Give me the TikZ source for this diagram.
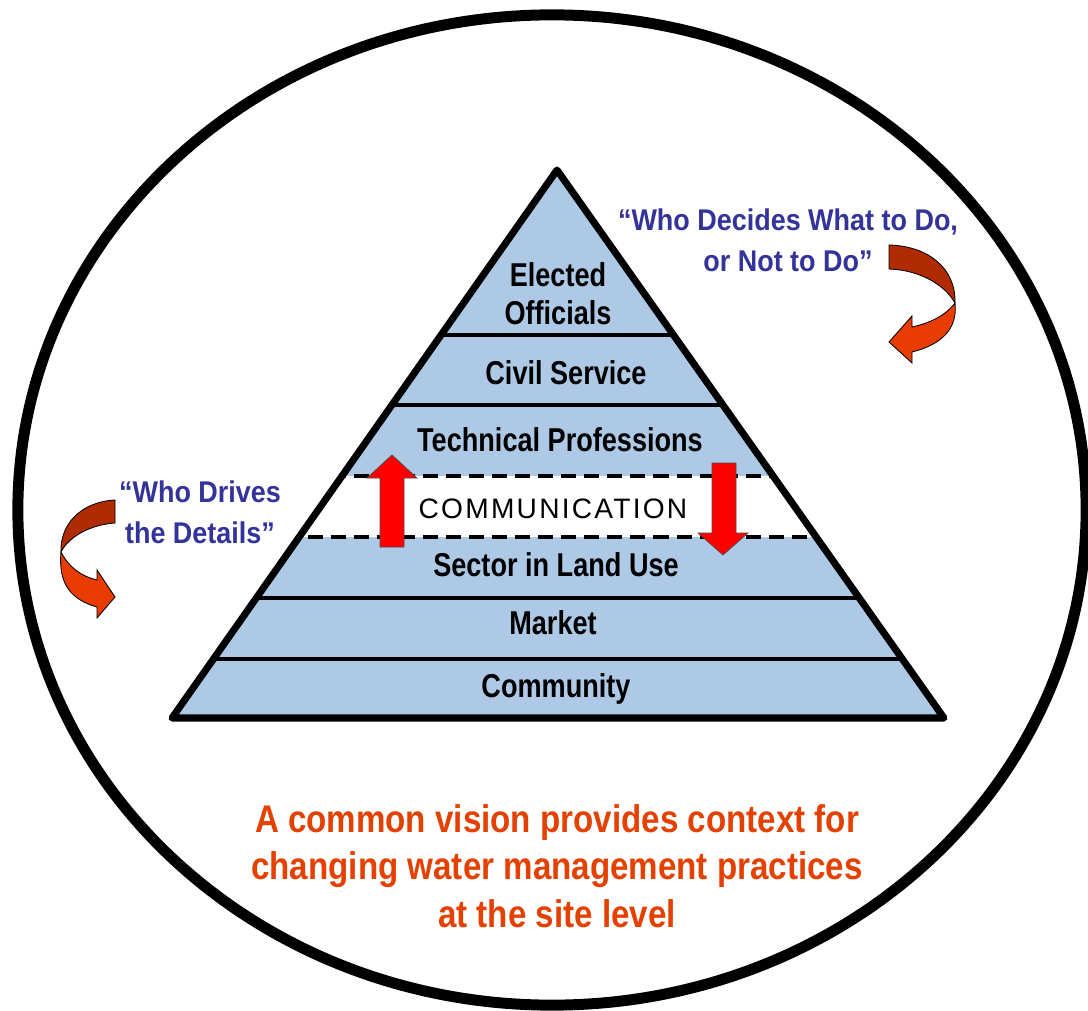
\documentclass[tikz,border=0pt]{standalone}
\usepackage{fontspec}
\setmainfont{Liberation Sans}
\newfontfamily\labelfont[FakeStretch=0.82]{Liberation Sans Bold}
\newfontfamily\quotefont[FakeStretch=0.9]{Liberation Sans Bold}
\newfontfamily\visionfont[FakeStretch=0.86]{Liberation Sans Bold}
\newfontfamily\commfont[LetterSpace=8]{Liberation Sans}
\definecolor{pyramidBlue}{RGB}{173,201,230}
\definecolor{quoteBlue}{RGB}{51,51,153}
\definecolor{visionOrange}{RGB}{228,64,0}
\definecolor{arrowDark}{RGB}{176,44,0}
\definecolor{arrowLight}{RGB}{232,60,0}
\begin{document}
\begin{tikzpicture}[x=0.025cm, y=-0.025cm,
    layerLabel/.style={font=\labelfont\fontsize{23.5}{27}\selectfont, align=center},
    commLabel/.style={font=\commfont\fontsize{20}{24}\selectfont},
    quoteText/.style={font=\quotefont\fontsize{21.3}{29}\selectfont, text=quoteBlue, align=center},
    visionText/.style={font=\visionfont\fontsize{27.4}{33.8}\selectfont, text=visionOrange, align=center},
    layerLine/.style={line width=2.2pt},
    commLine/.style={line width=2.4pt, dash pattern=on 10.7pt off 5.7pt},
    redArrow/.style={fill=red, draw=black!70, line width=0.5pt},
    bendDark/.style={fill=arrowDark, draw=black, line width=0.6pt},
    bendLight/.style={fill=arrowLight, draw=black, line width=0.6pt}]
    \useasboundingbox (0,0) rectangle (1088,1011);
    \fill[white] (0,0) rectangle (1088,1011);
    \draw[line width=7.8pt] (552,510) ellipse [x radius=13.35cm, y radius=12.375cm];

    \coordinate (apex) at (557,170);
    \coordinate (baseLeft) at (172,718);
    \coordinate (baseRight) at (944,718);
    \fill[pyramidBlue] (apex) -- (baseRight) -- (baseLeft) -- cycle;
    \begin{scope}
        \clip (apex) -- (baseRight) -- (baseLeft) -- cycle;
        \fill[white] (100,476) rectangle (1000,537);
        \foreach \y in {335,405,598,659}
            \draw[layerLine] (100,\y) -- (1000,\y);
        \foreach \y in {476,537}
            \draw[commLine] (100,\y) -- (1000,\y);
    \end{scope}
    \draw[line width=5pt, line join=round] (apex) -- (baseRight) -- (baseLeft) -- cycle;

    \node[layerLabel](elected) at (558,294) {Elected\\Officials};
    \node[layerLabel](civil) at (566,373) {Civil Service};
    \node[layerLabel](technical) at (560,440) {Technical Professions};
    \node[commLabel](comm) at (553,509) {COMMUNICATION};
    \node[layerLabel](sector) at (556,565) {Sector in Land Use};
    \node[layerLabel](market) at (553,623) {Market};
    \node[layerLabel](community) at (556,689) {Community};

    \node[quoteText](decides) at (788,240) {“Who Decides What to Do,\\or Not to Do”};
    \node[quoteText](drives) at (200,512) {“Who Drives\\the Details”};
    \node[visionText](vision) at (557,866) {A common vision provides context for\\changing water management practices\\at the site level};

    \filldraw[redArrow] (380,547) -- (380,478) -- (367,478) -- (392,455) -- (417,478) -- (404,478) -- (404,547) -- cycle;
    \filldraw[redArrow] (712,463) -- (736,463) -- (736,533) -- (748,533) -- (723,555) -- (698,533) -- (712,533) -- cycle;

    \filldraw[bendDark] (889,245) .. controls (928,246) and (956,268) .. (955,303)
        .. controls (945,285) and (920,270) .. (889,269) -- cycle;
    \filldraw[bendLight] (955,303) .. controls (945,316) and (930,323) .. (912,327)
        -- (912,316) -- (889,342) -- (912,363) -- (912,352)
        .. controls (940,345) and (958,330) .. (955,303) -- cycle;
    \filldraw[bendDark] (115,500) .. controls (80,502) and (60,525) .. (61,552)
        .. controls (68,538) and (88,525) .. (115,523) -- cycle;
    \filldraw[bendLight] (61,552) .. controls (68,566) and (80,576) .. (97,580)
        -- (97,570) -- (115,597) -- (97,618) -- (97,607)
        .. controls (72,600) and (58,585) .. (61,552) -- cycle;
\end{tikzpicture}
\end{document}
